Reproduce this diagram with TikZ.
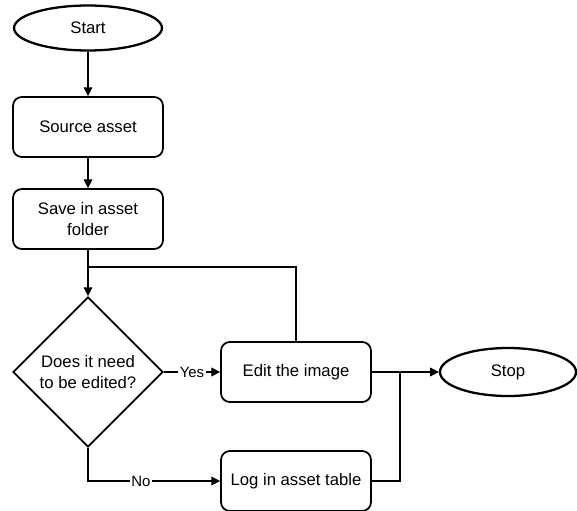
\documentclass[tikz,border=0pt]{standalone}
\usepackage{fontspec}
\setmainfont{Liberation Sans}
\usetikzlibrary{shapes.geometric,arrows.meta}

\begin{document}
\begin{tikzpicture}
  [x=0.02cm,y=-0.02cm,font=\fontsize{9.5}{11.5}\selectfont,
   terminal/.style={ellipse,draw,line width=1.3pt,minimum width=2.96cm,minimum height=0.9cm},
   process/.style={rectangle,draw,line width=1pt,rounded corners=5pt,minimum width=3cm,minimum height=1.2cm,align=center},
   decision/.style={diamond,draw,line width=1pt,aspect=1,minimum width=3cm,minimum height=3cm,inner sep=0pt,align=center},
   link/.style={line width=0.6pt},
   flow/.style={link,-{Triangle[length=5pt,width=5pt]}},
   tag/.style={fill=white,inner sep=1pt,font=\fontsize{8.5}{10}\selectfont}]
  \useasboundingbox (0,0) rectangle (577,510);

  \node[terminal] (start) at (88,28) {Start};
  \node[process] (source) at (88,127) {Source asset};
  \node[process] (save) at (88,219) {Save in asset\\folder};
  \node[decision] (check) at (88,372) {Does it need\\to be edited?};
  \node[process] (edit) at (296,372) {Edit the image};
  \node[terminal,minimum width=2.72cm,minimum height=0.96cm] (stop) at (508,372) {Stop};
  \node[process] (log) at (296,481) {Log in asset table};

  \coordinate (loop) at (88,267);
  \coordinate (merge) at (400,372);

  \foreach \from/\to in {start/source, source/save, save/check, edit/stop}
    \draw [flow] (\from) -- (\to);

  \draw [flow] (check) -- node[tag] {Yes} (edit);
  \draw [flow] (check) |- node[tag,pos=0.7] {No} (log);
  \draw [link] (edit) |- (loop);
  \draw [link] (log) -| (merge);

\end{tikzpicture}
\end{document}
